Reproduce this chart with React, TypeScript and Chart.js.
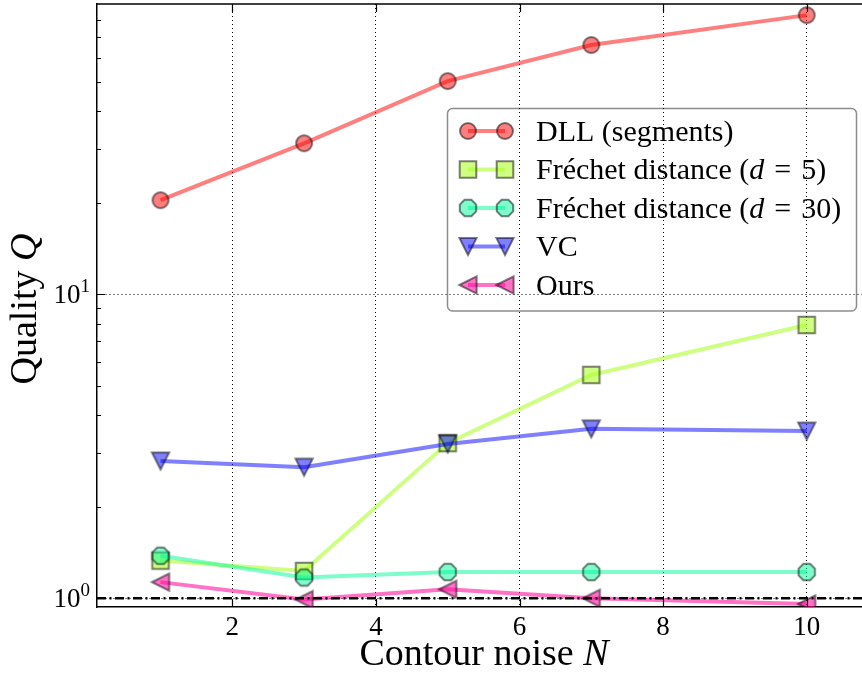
import React, { useEffect, useRef } from 'react';
import { Chart, registerables } from 'chart.js';

Chart.register(...registerables);

// ---- data ----
const NOISE = [1, 3, 5, 7, 10];
const DLL = [20.4, 31.4, 50.3, 66.1, 82.9];
const FRECHET5 = [1.33, 1.23, 3.24, 5.43, 7.93];
const FRECHET30 = [1.38, 1.17, 1.22, 1.22, 1.22];
const VC = [2.83, 2.7, 3.22, 3.61, 3.55];
const OURS = [1.13, 0.99, 1.07, 1.0, 0.958];
const BASELINE = 1;

const X_TICKS = [2, 4, 6, 8, 10];
const Y_MAJOR = [1, 10];
const Y_MINOR = [2, 3, 4, 5, 6, 7, 8, 9, 20, 30, 40, 50, 60, 70, 80];
const X_MIN = 0.1156;
const X_MAX = 10.77;
const Y_MIN = 0.936;
const Y_MAX = 90.2;

type Run = [string, boolean];
const LABEL_DLL: Run[] = [['DLL (segments)', false]];
const LABEL_F5: Run[] = [['Fréchet distance (', false], ['d', true], ['\u2004=\u20045)', false]];
const LABEL_F30: Run[] = [['Fréchet distance (', false], ['d', true], ['\u2004=\u200430)', false]];
const LABEL_VC: Run[] = [['VC', false]];
const LABEL_OURS: Run[] = [['Ours', false]];
const X_TITLE: Run[] = [['Contour noise ', false], ['N', true]];
const Y_TITLE: Run[] = [['Quality ', false], ['Q', true]];

const FONT = "'Liberation Serif', 'Times New Roman', serif";

type Shape = 'circle' | 'square' | 'octagon' | 'triDown' | 'triLeft';

function shapePath(ctx: CanvasRenderingContext2D, shape: Shape, cx: number, cy: number, s: number) {
  ctx.beginPath();
  if (shape === 'circle') {
    ctx.arc(cx, cy, s, 0, Math.PI * 2);
  } else if (shape === 'square') {
    ctx.rect(cx - s, cy - s, 2 * s, 2 * s);
  } else if (shape === 'octagon') {
    const r = s / Math.cos(Math.PI / 8);
    for (let k = 0; k < 8; k++) {
      const a = Math.PI / 8 + (k * Math.PI) / 4;
      const px = cx + r * Math.cos(a);
      const py = cy + r * Math.sin(a);
      if (k === 0) ctx.moveTo(px, py);
      else ctx.lineTo(px, py);
    }
  } else if (shape === 'triDown') {
    ctx.moveTo(cx, cy + s);
    ctx.lineTo(cx - s, cy - s);
    ctx.lineTo(cx + s, cy - s);
  } else {
    ctx.moveTo(cx - s, cy);
    ctx.lineTo(cx + s, cy - s);
    ctx.lineTo(cx + s, cy + s);
  }
  ctx.closePath();
}

const SHAPE_SIZE: Record<Shape, number> = {
  circle: 8,
  square: 8.3,
  octagon: 8.2,
  triDown: 8.6,
  triLeft: 8.6,
};

function drawMarker(ctx: CanvasRenderingContext2D, shape: Shape, cx: number, cy: number, fill: string) {
  ctx.save();
  shapePath(ctx, shape, cx, cy, SHAPE_SIZE[shape]);
  ctx.fillStyle = fill;
  ctx.fill();
  ctx.lineWidth = 2;
  ctx.lineJoin = 'miter';
  ctx.strokeStyle = 'rgba(0,0,0,0.5)';
  ctx.stroke();
  ctx.restore();
}

function makeMarker(shape: Shape, fill: string): HTMLCanvasElement {
  const c = document.createElement('canvas');
  c.width = 26;
  c.height = 26;
  const ctx = c.getContext('2d')!;
  drawMarker(ctx, shape, 13, 13, fill);
  return c;
}

interface SeriesDef {
  runs: Run[];
  values: number[];
  color: string;
  shape: Shape;
}

const SERIES: SeriesDef[] = [
  { runs: LABEL_DLL, values: DLL, color: 'rgba(255,0,0,0.5)', shape: 'circle' },
  { runs: LABEL_F5, values: FRECHET5, color: 'rgba(173,255,47,0.6)', shape: 'square' },
  { runs: LABEL_F30, values: FRECHET30, color: 'rgba(0,250,154,0.5)', shape: 'octagon' },
  { runs: LABEL_VC, values: VC, color: 'rgba(0,0,255,0.5)', shape: 'triDown' },
  { runs: LABEL_OURS, values: OURS, color: 'rgba(255,20,160,0.6)', shape: 'triLeft' },
];

function runsWidth(ctx: CanvasRenderingContext2D, runs: Run[], size: number) {
  let w = 0;
  for (const [t, it] of runs) {
    ctx.font = `${it ? 'italic ' : ''}${size}px ${FONT}`;
    w += ctx.measureText(t).width;
  }
  return w;
}

function drawRuns(ctx: CanvasRenderingContext2D, runs: Run[], x: number, y: number, size: number, align: 'left' | 'center') {
  let cx = align === 'center' ? x - runsWidth(ctx, runs, size) / 2 : x;
  ctx.textAlign = 'left';
  ctx.textBaseline = 'alphabetic';
  ctx.fillStyle = '#000';
  for (const [t, it] of runs) {
    ctx.font = `${it ? 'italic ' : ''}${size}px ${FONT}`;
    ctx.fillText(t, cx, y);
    cx += ctx.measureText(t).width;
  }
}

const decorPlugin = {
  id: 'decor',
  afterDatasetsDraw(chart: any) {
    const ctx: CanvasRenderingContext2D = chart.ctx;
    const { left, right, top, bottom } = chart.chartArea;
    const xs = chart.scales.x;
    const ys = chart.scales.y;
    ctx.save();
    // top frame
    ctx.strokeStyle = '#000';
    ctx.lineWidth = 1.5;
    ctx.beginPath();
    ctx.moveTo(left, top);
    ctx.lineTo(right, top);
    ctx.stroke();
    // inward ticks
    ctx.lineWidth = 1.2;
    ctx.beginPath();
    for (const v of X_TICKS) {
      const px = Math.round(xs.getPixelForValue(v)) + 0.5;
      ctx.moveTo(px, bottom);
      ctx.lineTo(px, bottom - 8);
      ctx.moveTo(px, top);
      ctx.lineTo(px, top + 8);
    }
    for (const v of Y_MAJOR) {
      const py = Math.round(ys.getPixelForValue(v)) + 0.5;
      ctx.moveTo(left, py);
      ctx.lineTo(left + 8, py);
    }
    for (const v of Y_MINOR) {
      const py = Math.round(ys.getPixelForValue(v)) + 0.5;
      ctx.moveTo(left, py);
      ctx.lineTo(left + 4, py);
    }
    ctx.stroke();

    // x tick labels
    ctx.fillStyle = '#000';
    ctx.font = `27px ${FONT}`;
    ctx.textAlign = 'center';
    ctx.textBaseline = 'alphabetic';
    for (const v of X_TICKS) {
      ctx.fillText(String(v), xs.getPixelForValue(v), bottom + 27.5);
    }
    // y tick labels 10^n
    for (const v of Y_MAJOR) {
      const py = ys.getPixelForValue(v);
      const exp = String(Math.round(Math.log10(v)));
      ctx.font = `19px ${FONT}`;
      const we = ctx.measureText(exp).width;
      ctx.font = `27px ${FONT}`;
      const wb = ctx.measureText('10').width;
      const xr = left - 7;
      ctx.textAlign = 'left';
      ctx.fillText('10', xr - we - wb, py + 8.7);
      ctx.font = `19px ${FONT}`;
      ctx.fillText(exp, xr - we, py - 2);
    }
    // axis titles
    drawRuns(ctx, X_TITLE, 484, 665, 38, 'center');
    ctx.save();
    ctx.translate(36, 309);
    ctx.rotate(-Math.PI / 2);
    drawRuns(ctx, Y_TITLE, 0, 0, 38, 'center');
    ctx.restore();
    ctx.restore();
  },
  afterDraw(chart: any) {
    const ctx: CanvasRenderingContext2D = chart.ctx;
    ctx.save();
    // legend frame
    const bx = 447.5, by = 108.5, bw = 409, bh = 202.5, r = 5;
    ctx.beginPath();
    ctx.moveTo(bx + r, by);
    ctx.lineTo(bx + bw - r, by);
    ctx.arcTo(bx + bw, by, bx + bw, by + r, r);
    ctx.lineTo(bx + bw, by + bh - r);
    ctx.arcTo(bx + bw, by + bh, bx + bw - r, by + bh, r);
    ctx.lineTo(bx + r, by + bh);
    ctx.arcTo(bx, by + bh, bx, by + bh - r, r);
    ctx.lineTo(bx, by + r);
    ctx.arcTo(bx, by, bx + r, by, r);
    ctx.closePath();
    ctx.strokeStyle = 'rgba(0,0,0,0.45)';
    ctx.lineWidth = 1.5;
    ctx.stroke();
    SERIES.forEach((s, i) => {
      const y = 131 + i * 38.5;
      ctx.strokeStyle = s.color;
      ctx.lineWidth = 4;
      ctx.beginPath();
      ctx.moveTo(468, y);
      ctx.lineTo(505, y);
      ctx.stroke();
      drawMarker(ctx, s.shape, 468, y, s.color);
      drawMarker(ctx, s.shape, 505, y, s.color);
      drawRuns(ctx, s.runs, 536, y + 9.5, 30, 'left');
    });
    ctx.restore();
  },
};

export default function App() {
  const ref = useRef<HTMLCanvasElement>(null);
  useEffect(() => {
    if (!ref.current) return;
    const n = SERIES.length;
    const datasets: any[] = SERIES.map((s, i) => ({
      label: s.runs.map((r) => r[0]).join(''),
      data: NOISE.map((x, j) => ({ x, y: s.values[j] })),
      borderColor: s.color,
      backgroundColor: s.color,
      borderWidth: 4,
      tension: 0,
      fill: false,
      pointStyle: makeMarker(s.shape, s.color),
      pointRadius: 9,
      pointBorderWidth: 0,
      order: n - i,
      clip: 0,
    }));
    datasets.push({
      label: 'baseline',
      data: [
        { x: X_MIN, y: BASELINE },
        { x: X_MAX, y: BASELINE },
      ],
      borderColor: '#000',
      borderWidth: 2.5,
      borderDash: [9, 3.5, 2, 3.5],
      pointRadius: 0,
      fill: false,
      order: 0,
      clip: 0,
    });
    const chart = new Chart(ref.current, {
      type: 'line',
      data: { datasets },
      options: {
        animation: false,
        responsive: false,
        devicePixelRatio: 1,
        events: [],
        layout: { autoPadding: false, padding: { top: 4, right: 0, left: 0, bottom: 0 } },
        plugins: { legend: { display: false }, tooltip: { enabled: false }, title: { display: false } },
        scales: {
          x: {
            type: 'linear',
            min: X_MIN,
            max: X_MAX,
            afterBuildTicks: (s: any) => {
              s.ticks = X_TICKS.map((v) => ({ value: v }));
            },
            afterFit: (s: any) => {
              s.height = 72;
            },
            ticks: { display: false },
            grid: { color: '#000', lineWidth: 1, drawTicks: false },
            border: { display: true, color: '#000', width: 1.5, dash: [1, 3] },
          },
          y: {
            type: 'logarithmic',
            min: Y_MIN,
            max: Y_MAX,
            afterBuildTicks: (s: any) => {
              s.ticks = [...Y_MAJOR, ...Y_MINOR]
                .sort((a, b) => a - b)
                .map((v) => ({ value: v, major: Y_MAJOR.includes(v) }));
            },
            afterFit: (s: any) => {
              s.width = 97;
            },
            ticks: { display: false },
            grid: {
              color: (c: any) => (c.tick && Y_MAJOR.includes(c.tick.value) ? '#000' : 'rgba(0,0,0,0)'),
              lineWidth: 1,
              drawTicks: false,
            },
            border: { display: true, color: '#000', width: 1.5, dash: [1, 3] },
          },
        },
      } as any,
      plugins: [decorPlugin],
    });
    return () => chart.destroy();
  }, []);
  return (
    <div style={{ position: 'fixed', left: 0, top: 0, width: 862, height: 679, background: '#fff' }}>
      <canvas ref={ref} width={862} height={679} style={{ width: 862, height: 679, display: 'block' }} />
    </div>
  );
}
